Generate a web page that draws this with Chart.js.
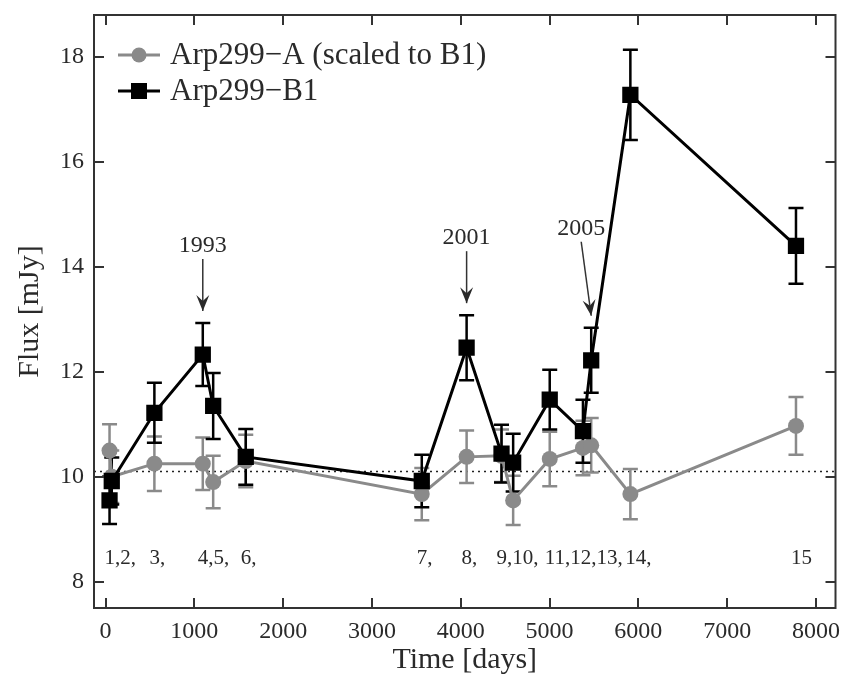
<!DOCTYPE html>
<html>
<head>
<meta charset="utf-8">
<script src="https://cdn.jsdelivr.net/npm/chart.js@4/dist/chart.umd.min.js"></script>
<style>
  html, body { margin: 0; background: #fff; }
</style>
</head>
<body>
<canvas id="c" width="847" height="678"></canvas>
<script>
// epochs (days) and fluxes
const days  = [45, 70, 550, 1095, 1212, 1579, 3561, 4066, 4459, 4590, 5002, 5376, 5469, 5910, 7775];
const fluxA = [10.5, 10.0, 10.25, 10.25, 9.9, 10.3, 9.67, 10.38, 10.4, 9.55, 10.34, 10.55, 10.6, 9.67, 10.97];
const errA  = [0.5, 0.5, 0.52, 0.5, 0.5, 0.5, 0.5, 0.5, 0.5, 0.47, 0.52, 0.52, 0.52, 0.48, 0.55];
const fluxB = [9.55, 9.92, 11.22, 12.33, 11.35, 10.38, 9.92, 12.46, 10.44, 10.27, 11.47, 10.87, 12.22, 17.28, 14.4];
const errB  = [0.45, 0.45, 0.57, 0.6, 0.63, 0.53, 0.5, 0.62, 0.55, 0.55, 0.57, 0.6, 0.62, 0.86, 0.72];

const meanFlux = 10.1;

const xTicks = [0, 1000, 2000, 3000, 4000, 5000, 6000, 7000, 8000];
const yTicks = [8, 10, 12, 14, 16, 18];

const epochLabels = ['1,2,', '3,', '4,5,', '6,', '7,', '8,', '9,10,', '11,12,13,', '14,', '15'];
const epochLabelIdx = [0, 2, 3, 5, 6, 7, 8, 10, 13, 14];
const epochLabelY = 8.45;

const years = ['1993', '2001', '2005'];
const yearIdx = [3, 7, 12];

const seriesNames = ['Arp299\u2212A (scaled to B1)', 'Arp299\u2212B1'];

const GREY = '#8a8a8a', BLACK = '#000', FRAME = '#333', TEXT = '#2a2a2a';
const SERIF = '"Liberation Serif", "DejaVu Serif", serif';

function pts(ys) {
  return days.map((d, i) => ({ x: d, y: ys[i] }));
}

function errorBars(chart, ys, errs, color) {
  const sx = chart.scales.x, sy = chart.scales.y;
  const c = chart.ctx;
  c.save();
  c.strokeStyle = color;
  c.lineWidth = 2.5;
  for (let i = 0; i < days.length; i++) {
    const px = sx.getPixelForValue(days[i]);
    const top = sy.getPixelForValue(ys[i] + errs[i]);
    const bot = sy.getPixelForValue(ys[i] - errs[i]);
    c.beginPath();
    c.moveTo(px, top); c.lineTo(px, bot);
    c.moveTo(px - 7.5, top); c.lineTo(px + 7.5, top);
    c.moveTo(px - 7.5, bot); c.lineTo(px + 7.5, bot);
    c.stroke();
  }
  c.restore();
}

function arrow(c, x1, y1, x2, y2) {
  c.beginPath();
  c.moveTo(x1, y1); c.lineTo(x2, y2);
  c.stroke();
  const a = Math.atan2(y2 - y1, x2 - x1);
  c.save();
  c.translate(x2, y2);
  c.rotate(a);
  c.beginPath();
  c.moveTo(0, 0);
  c.lineTo(-16, -6.5);
  c.lineTo(-10, 0);
  c.lineTo(-16, 6.5);
  c.closePath();
  c.fill();
  c.restore();
}

const decor = {
  id: 'decor',
  beforeDatasetsDraw(chart) {
    const c = chart.ctx, a = chart.chartArea, sy = chart.scales.y;
    // dotted mean level
    c.save();
    c.strokeStyle = '#222';
    c.lineWidth = 1.6;
    c.setLineDash([2, 4]);
    const my = sy.getPixelForValue(meanFlux);
    c.beginPath(); c.moveTo(a.left, my); c.lineTo(a.right, my); c.stroke();
    c.restore();
    errorBars(chart, fluxA, errA, GREY);
    errorBars(chart, fluxB, errB, BLACK);
  },
  afterDatasetsDraw(chart) {
    const c = chart.ctx, a = chart.chartArea;
    const sx = chart.scales.x, sy = chart.scales.y;
    c.save();
    // frame and inward ticks
    c.strokeStyle = FRAME;
    c.lineWidth = 2;
    c.strokeRect(a.left, a.top, a.right - a.left, a.bottom - a.top);
    c.beginPath();
    xTicks.forEach(v => {
      const px = Math.round(sx.getPixelForValue(v));
      c.moveTo(px, a.bottom); c.lineTo(px, a.bottom - 10);
      c.moveTo(px, a.top); c.lineTo(px, a.top + 10);
    });
    yTicks.forEach(v => {
      const py = Math.round(sy.getPixelForValue(v));
      c.moveTo(a.left, py); c.lineTo(a.left + 10, py);
      c.moveTo(a.right, py); c.lineTo(a.right - 10, py);
    });
    c.stroke();

    // epoch numbers
    c.fillStyle = TEXT;
    c.font = '21px ' + SERIF;
    c.textAlign = 'left';
    c.textBaseline = 'middle';
    epochLabels.forEach((t, k) => {
      const px = sx.getPixelForValue(days[epochLabelIdx[k]]);
      c.fillText(t, px - 5, sy.getPixelForValue(epochLabelY));
    });

    // year arrows
    c.font = '24px ' + SERIF;
    c.textAlign = 'center';
    c.strokeStyle = '#333';
    c.fillStyle = TEXT;
    c.lineWidth = 1.5;
    years.forEach((t, k) => {
      const i = yearIdx[k];
      const px = sx.getPixelForValue(days[i]);
      const top = sy.getPixelForValue(fluxB[i] + errB[i]);
      const tipY = top - 12;
      const slant = k === 2 ? 10 : 0;
      const len = k === 2 ? 74 : 52;
      arrow(c, px - slant, tipY - len, px, tipY);
      c.fillText(t, px - slant, tipY - len - 13);
    });

    // legend
    const rows = [
      { y: 55, color: GREY, style: 'circle' },
      { y: 91, color: BLACK, style: 'rect' }
    ];
    c.font = '31px ' + SERIF;
    c.textAlign = 'left';
    rows.forEach((r, k) => {
      c.strokeStyle = r.color;
      c.fillStyle = r.color;
      c.lineWidth = 3;
      c.beginPath(); c.moveTo(118, r.y); c.lineTo(160, r.y); c.stroke();
      c.beginPath();
      if (r.style === 'circle') c.arc(139, r.y, 7.5, 0, Math.PI * 2);
      else c.rect(131, r.y - 8, 16, 16);
      c.fill();
      c.fillStyle = TEXT;
      c.fillText(seriesNames[k], 170, r.y + 1);
    });
    c.restore();
  }
};

new Chart(document.getElementById('c'), {
  type: 'line',
  data: {
    datasets: [
      {
        label: seriesNames[1],
        data: pts(fluxB),
        borderColor: BLACK,
        backgroundColor: BLACK,
        borderWidth: 3,
        pointStyle: 'rect',
        pointRadius: 11.5,
        pointBorderWidth: 0,
        tension: 0,
        order: 1
      },
      {
        label: seriesNames[0],
        data: pts(fluxA),
        borderColor: GREY,
        backgroundColor: GREY,
        borderWidth: 3,
        pointStyle: 'circle',
        pointRadius: 8,
        pointBorderWidth: 0,
        tension: 0,
        order: 2
      }
    ]
  },
  options: {
    responsive: false,
    animation: false,
    devicePixelRatio: 1,
    layout: { padding: { top: 15, right: 10, left: 0, bottom: 0 } },
    plugins: { legend: { display: false }, tooltip: { enabled: false } },
    scales: {
      x: {
        type: 'linear',
        min: -130,
        max: 8220,
        afterBuildTicks: s => { s.ticks = xTicks.map(v => ({ value: v })); },
        afterFit: s => { s.height = 70; s.paddingLeft = 0; s.paddingRight = 0; },
        grid: { display: false, drawTicks: false },
        border: { display: false },
        ticks: { font: { family: SERIF, size: 24 }, color: TEXT, padding: 9, maxRotation: 0, callback: v => String(v) },
        title: { display: true, text: 'Time [days]', font: { family: SERIF, size: 30 }, color: TEXT, padding: { top: 0, bottom: 0 } }
      },
      y: {
        min: 7.5,
        max: 18.8,
        afterBuildTicks: s => { s.ticks = yTicks.map(v => ({ value: v })); },
        afterFit: s => { s.width = 94; s.paddingTop = 0; s.paddingBottom = 0; },
        grid: { display: false, drawTicks: false },
        border: { display: false },
        ticks: { font: { family: SERIF, size: 24 }, color: TEXT, padding: 10, callback: v => String(v) },
        title: { display: true, text: 'Flux [mJy]', font: { family: SERIF, size: 30 }, color: TEXT, padding: { top: 12, bottom: 0 } }
      }
    }
  },
  plugins: [decor]
});
</script>
</body>
</html>
